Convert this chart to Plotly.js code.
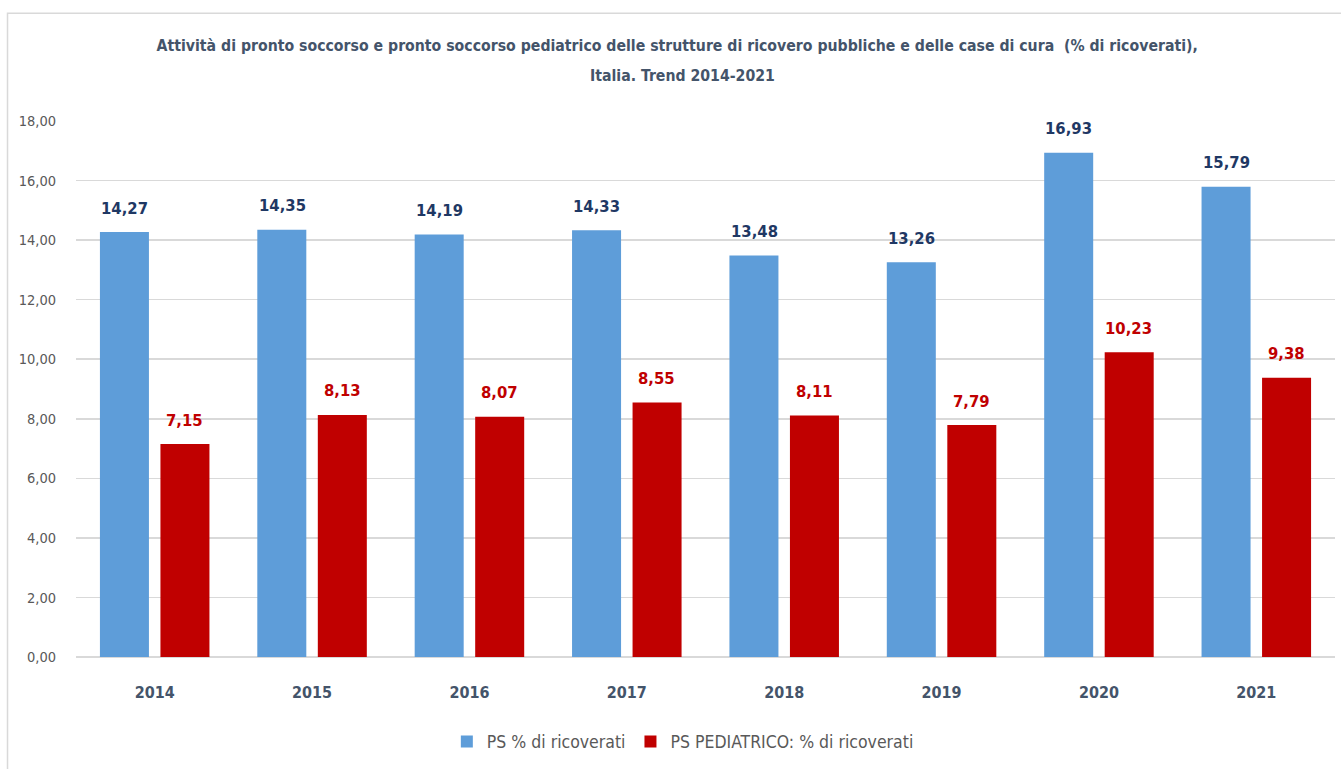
<!DOCTYPE html>
<html>
<head>
<meta charset="utf-8">
<script src="https://cdn.plot.ly/plotly-3.0.1.min.js"></script>
<style>html,body{margin:0;padding:0;background:#fff;}#chart{width:1341px;height:769px;}</style>
</head>
<body>
<div id="chart"></div>
<script>
const years = ['2014','2015','2016','2017','2018','2019','2020','2021'];
const psRicoverati = [14.27, 14.35, 14.19, 14.33, 13.48, 13.26, 16.93, 15.79];
const psPediatrico = [7.15, 8.13, 8.07, 8.55, 8.11, 7.79, 10.23, 9.38];
const seriesNames = ['PS % di ricoverati', 'PS PEDIATRICO: % di ricoverati'];
const yTicks = [0, 2, 4, 6, 8, 10, 12, 14, 16, 18];
const titleLine1 = 'Attività di pronto soccorso e pronto soccorso pediatrico delle strutture di ricovero pubbliche e delle case di cura  (% di ricoverati),';
const titleLine2 = 'Italia. Trend 2014-2021';

const FONT = '"DejaVu Sans Condensed", "Liberation Sans Narrow", sans-serif';
const fmt = v => v.toFixed(2).replace('.', ',');

const traces = [
  {type:'bar', x: years, y: psRicoverati, name: seriesNames[0],
   marker:{color:'#5e9dd9'}, hoverinfo:'skip'},
  {type:'bar', x: years, y: psPediatrico, name: seriesNames[1],
   marker:{color:'#c00000'}, hoverinfo:'skip'}
];

const annotations = [];
years.forEach((yr, i) => {
  annotations.push({x: i, y: psRicoverati[i], xref:'x', yref:'y', text: fmt(psRicoverati[i]),
    showarrow:false, xshift:-30, yshift:24, yanchor:'middle',
    font:{family:FONT, size:16.5, color:'#1f3864', weight:'bold'}});
  annotations.push({x: i, y: psPediatrico[i], xref:'x', yref:'y', text: fmt(psPediatrico[i]),
    showarrow:false, xshift:30, yshift:24, yanchor:'middle',
    font:{family:FONT, size:16.5, color:'#c00000', weight:'bold'}});
});
annotations.push({xref:'paper', yref:'paper', x:0.482, y:1.084, xanchor:'center', yanchor:'middle',
  showarrow:false, text:'<b>' + titleLine2 + '</b>',
  font:{family:FONT, size:15.7, color:'#44546a'}});

const layout = {
  width:1341, height:769, autosize:false,
  paper_bgcolor:'#ffffff', plot_bgcolor:'#ffffff',
  margin:{l:76, r:6, t:121, b:112, pad:0},
  font:{family:FONT, color:'#595959'},
  title:{text:'<b>' + titleLine1 + '</b>',
    x:0.505, xref:'container', xanchor:'center', y:1-46/769, yref:'container', yanchor:'middle',
    font:{family:FONT, size:15.7, color:'#44546a'}},
  barmode:'group', bargap:0.231, bargroupgap:0.19,
  xaxis:{type:'category', range:[-0.5, 7.5], autorange:false, showgrid:false, showline:false, zeroline:false,
    ticks:'outside', ticklen:21, tickcolor:'rgba(0,0,0,0)',
    tickfont:{family:FONT, size:16, color:'#44546a', weight:'bold'}},
  yaxis:{range:[0,18], autorange:false, tickvals:yTicks, ticktext:yTicks.map(fmt),
    showgrid:true, gridcolor:'#d9d9d9', gridwidth:1.5,
    zeroline:true, zerolinecolor:'#d9d9d9', zerolinewidth:1.5, showline:false,
    ticks:'outside', ticklen:16, tickcolor:'rgba(0,0,0,0)',
    tickfont:{family:FONT, size:14.5, color:'#595959'}},
  showlegend:true,
  legend:{orientation:'h', x:0.482, xanchor:'center', y:-0.158, yanchor:'middle',
    font:{family:FONT, size:17.5, color:'#595959'}, itemwidth:30, tracegroupgap:0},
  annotations: annotations,
  shapes:[{type:'rect', xref:'paper', yref:'paper', x0:-0.0544, x1:1.01, y0:-0.23, y1:1.201,
    line:{color:'#d9d9d9', width:1.5}, fillcolor:'rgba(0,0,0,0)', layer:'below'}]
};

Plotly.newPlot('chart', traces, layout, {displayModeBar:false, staticPlot:true});
</script>
</body>
</html>
